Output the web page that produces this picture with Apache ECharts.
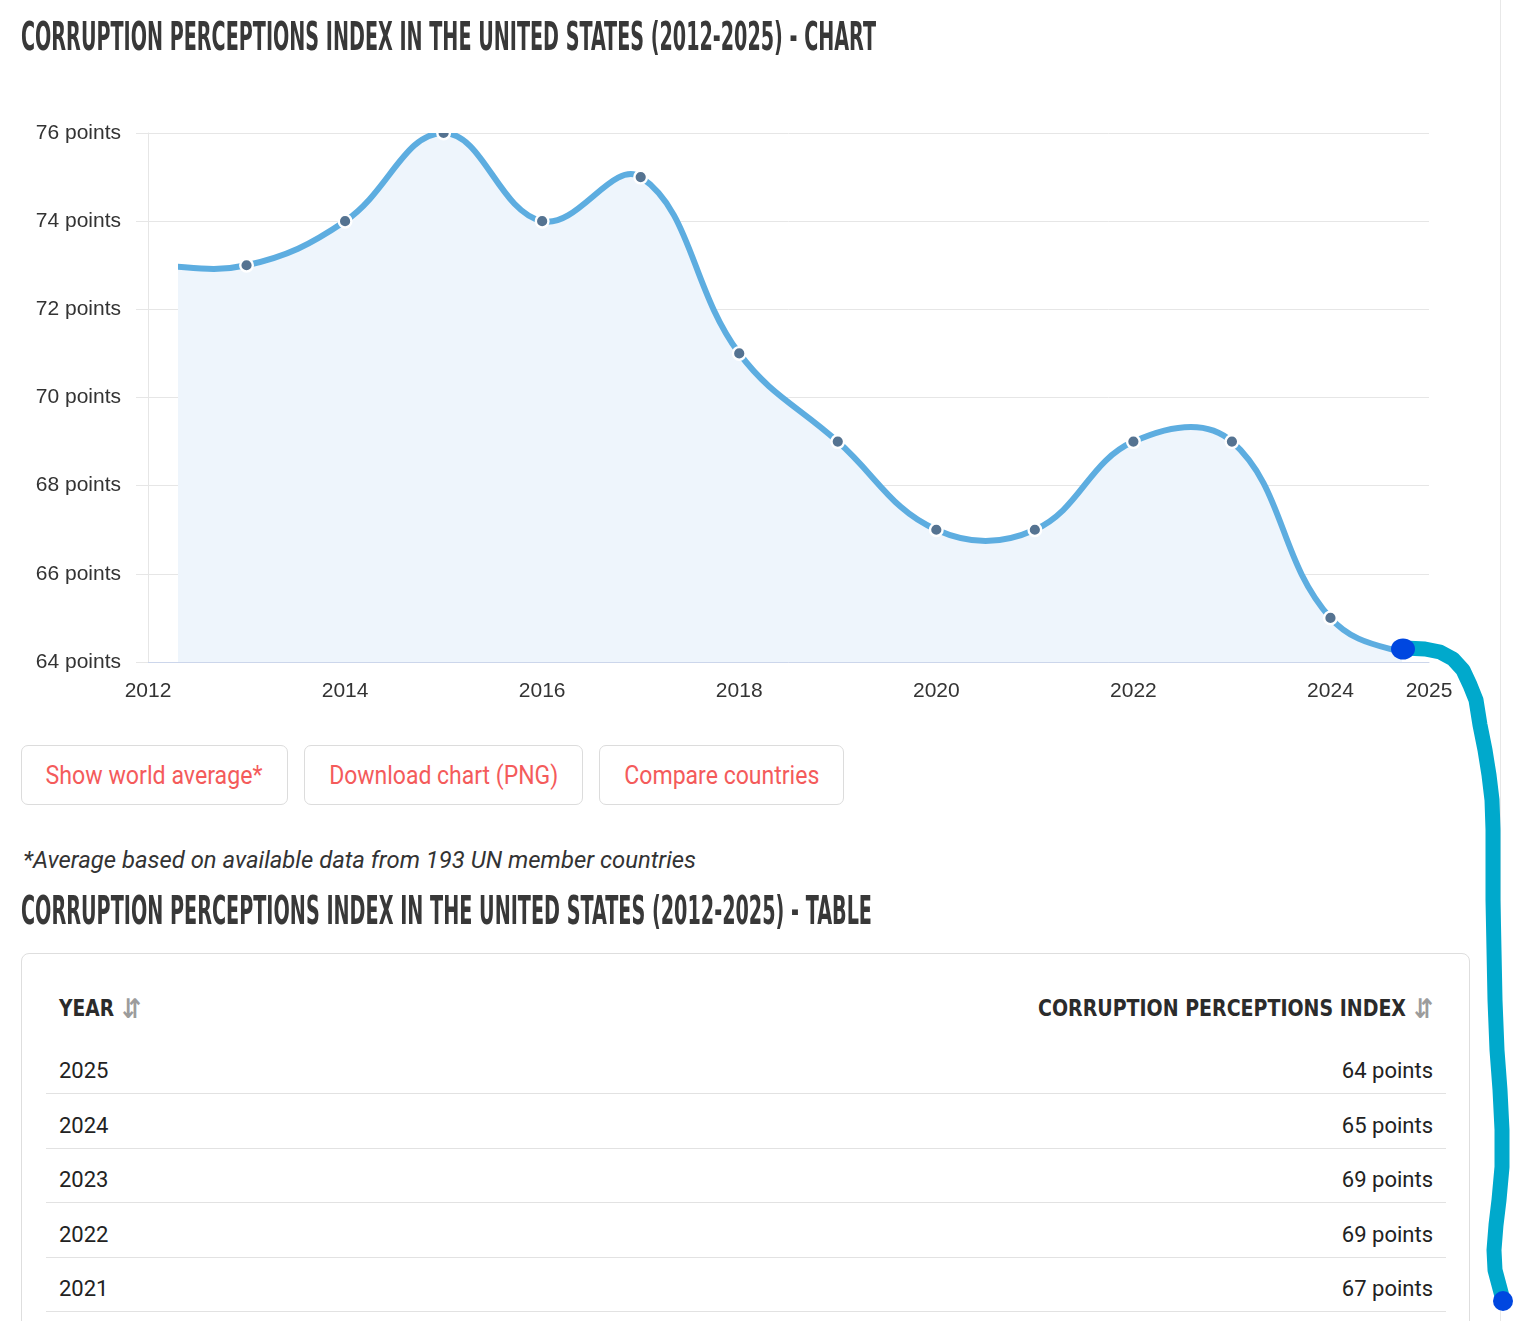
<!DOCTYPE html>
<html>
<head>
<meta charset="utf-8">
<script src="https://cdn.jsdelivr.net/npm/echarts@6/dist/echarts.min.js"></script>
<style>
html,body{margin:0;padding:0;background:#fff;width:1530px;height:1321px;overflow:hidden;}
body{position:relative;}
.abs{position:absolute;white-space:nowrap;}
.fit{display:inline-block;white-space:nowrap;transform-origin:left center;}
.h{font-family:'Liberation Sans Narrow','DejaVu Sans Condensed',sans-serif;font-weight:bold;color:#383838;font-size:39px;line-height:39px;}
.btn{position:absolute;top:745px;height:60px;box-sizing:border-box;border:1px solid #dcdcdc;border-radius:7px;display:flex;align-items:center;justify-content:center;background:#fff;}
.btn span{font-family:Roboto,'Noto Sans',sans-serif;font-size:25px;line-height:25px;color:#f45b5b;display:inline-block;white-space:nowrap;transform-origin:center center;}
.note{font-family:Roboto,'Noto Sans',sans-serif;font-style:italic;font-size:24px;line-height:24px;color:#333;}
.th{font-family:'Liberation Sans Narrow','DejaVu Sans Condensed',sans-serif;font-weight:bold;font-size:23px;line-height:23px;color:#2b2b2b;}
.arrow{font-family:'DejaVu Sans',sans-serif;font-weight:bold;font-size:27px;line-height:23px;color:#9c9c9c;display:inline-block;transform-origin:left center;}
.td{font-family:Roboto,'Noto Sans',sans-serif;font-size:22px;line-height:22px;color:#222;}
#chart{position:absolute;left:0;top:0;width:1530px;height:720px;}
</style>
</head>
<body>
<div id="chart"></div>
<div class="abs" style="left:1500px;top:0;width:1px;height:1321px;background:#e8e8e8;"></div>
<div class="abs h" style="left:21px;top:17px;"><span class="fit" data-w="855">CORRUPTION PERCEPTIONS INDEX IN THE UNITED STATES (2012-2025) - CHART</span></div>

<div class="btn" style="left:21px;width:267px;"><span data-w="217">Show world average*</span></div>
<div class="btn" style="left:304px;width:279px;"><span data-w="229">Download chart (PNG)</span></div>
<div class="btn" style="left:599px;width:245px;"><span data-w="195">Compare countries</span></div>

<div class="abs note" style="left:23px;top:848px;"><span class="fit" data-w="673">*Average based on available data from 193 UN member countries</span></div>

<div class="abs h" style="left:21px;top:891px;"><span class="fit" data-w="851">CORRUPTION PERCEPTIONS INDEX IN THE UNITED STATES (2012-2025) - TABLE</span></div>

<div class="abs" style="left:21px;top:953px;width:1449px;height:420px;box-sizing:border-box;border:1px solid #dedede;border-radius:8px;"></div>
<div class="abs th" style="left:59px;top:997px;"><span class="fit" data-w="55">YEAR</span></div>
<div class="abs" style="left:122px;top:997px;"><span class="arrow" data-w="19">⇵</span></div>
<div class="abs th" style="left:1038px;top:997px;"><span class="fit" data-w="368">CORRUPTION PERCEPTIONS INDEX</span></div>
<div class="abs" style="left:1414px;top:997px;"><span class="arrow" data-w="19">⇵</span></div>
<div id="rows"></div>

<svg class="abs" style="left:0;top:0;pointer-events:none;" width="1530" height="1321" viewBox="0 0 1530 1321">
  <polyline fill="none" stroke="#00a9cc" stroke-width="15" stroke-linecap="round" stroke-linejoin="round"
    points="1405,648 1425,649 1440,652 1453,659 1463,670 1470,685 1476,700 1480,725 1485,750 1489,775 1492,800 1493,830 1493,860 1493,900 1494,950 1495,1000 1497,1050 1500,1090 1502,1130 1502,1167 1499,1200 1496,1225 1494,1250 1495,1270 1499,1285 1503,1300"/>
  <ellipse cx="1403" cy="649" rx="12" ry="10.5" fill="#0047e0"/>
  <circle cx="1503" cy="1301" r="10" fill="#0047e0"/>
</svg>

<script>
// ---- data ----
const years = [2012, 2013, 2014, 2015, 2016, 2017, 2018, 2019, 2020, 2021, 2022, 2023, 2024, 2025];
const cpiValues = [73, 73, 74, 76, 74, 75, 71, 69, 67, 67, 69, 69, 65, 64];
const xTickLabels = ['2012', '2014', '2016', '2018', '2020', '2022', '2024', '2025'];
const yTickValues = [64, 66, 68, 70, 72, 74, 76];
const unitLabel = 'points';

// ---- table rows ----
const rowsEl = document.getElementById('rows');
const order = years.map((y, i) => i).reverse();
order.forEach((idx, r) => {
  const cy = 1071 + r * 54.6;
  const yr = document.createElement('div');
  yr.className = 'abs td';
  yr.style.left = '59px';
  yr.style.top = (cy - 11) + 'px';
  yr.textContent = String(years[idx]);
  rowsEl.appendChild(yr);
  const val = document.createElement('div');
  val.className = 'abs td';
  val.style.right = (1530 - 1433) + 'px';
  val.style.top = (cy - 11) + 'px';
  val.textContent = cpiValues[idx] + ' ' + unitLabel;
  rowsEl.appendChild(val);
  const sep = document.createElement('div');
  sep.className = 'abs';
  sep.style.left = '46px';
  sep.style.width = '1400px';
  sep.style.height = '1px';
  sep.style.background = '#e2e2e2';
  sep.style.top = Math.round(cy + 22) + 'px';
  rowsEl.appendChild(sep);
});

// ---- fit condensed texts ----
document.querySelectorAll('[data-w]').forEach(el => {
  const w = el.getBoundingClientRect().width;
  const target = parseFloat(el.getAttribute('data-w'));
  if (w > 0) el.style.transform = 'scaleX(' + (target / w) + ')';
});

// ---- chart ----
const plotLeft = 148, plotRight = 1429, plotTop = 133, plotBottom = 662, chartH = 720, chartW = 1530;
const clipLeft = 178, clipRight = 1402;
const xMin = 2012, xMax = 2025;
const yMin = yTickValues[0], yMax = yTickValues[yTickValues.length - 1];
const pxPerYear = (plotRight - plotLeft) / (xMax - xMin);
const clipMin = xMin + (clipLeft - plotLeft) / pxPerYear;
const clipMax = xMin + (clipRight - plotLeft) / pxPerYear;
const tension = 0.4;

function splineCurve(p0, p1, p2, t) {
  const d01 = Math.hypot(p1[0] - p0[0], p1[1] - p0[1]);
  const d12 = Math.hypot(p2[0] - p1[0], p2[1] - p1[1]);
  let s01 = d01 / (d01 + d12), s12 = d12 / (d01 + d12);
  if (!isFinite(s01)) s01 = 0;
  if (!isFinite(s12)) s12 = 0;
  const fa = t * s01, fb = t * s12;
  return {
    prev: [p1[0] - fa * (p2[0] - p0[0]), p1[1] - fa * (p2[1] - p0[1])],
    next: [p1[0] + fb * (p2[0] - p0[0]), p1[1] + fb * (p2[1] - p0[1])]
  };
}

function renderCurve(params, api) {
  if (params.dataIndex !== 0) return null;
  const pts = years.map((y, i) => api.coord([y, cpiValues[i]]));
  const tl = api.coord([xMin, yMax]);
  const br = api.coord([xMax, yMin]);
  const cap = (p) => [Math.max(tl[0], Math.min(br[0], p[0])), Math.max(tl[1], Math.min(br[1], p[1]))];
  const cps = pts.map((p, i) => {
    const prev = pts[i - 1] || p;
    const next = pts[i + 1] || p;
    const c = splineCurve(prev, p, next, tension);
    return { prev: cap(c.prev), next: cap(c.next) };
  });
  let d = 'M' + pts[0][0] + ' ' + pts[0][1];
  for (let i = 1; i < pts.length; i++) {
    const a = cps[i - 1].next, b = cps[i].prev, p = pts[i];
    d += ' C' + a[0] + ' ' + a[1] + ' ' + b[0] + ' ' + b[1] + ' ' + p[0] + ' ' + p[1];
  }
  const base = br[1];
  const area = d + ' L' + pts[pts.length - 1][0] + ' ' + base + ' L' + pts[0][0] + ' ' + base + ' Z';
  const children = [
    { type: 'path', shape: { pathData: area }, style: { fill: '#eef5fc', stroke: null }, silent: true },
    { type: 'path', shape: { pathData: d }, style: { fill: null, stroke: '#5dade0', lineWidth: 6, lineJoin: 'round', lineCap: 'butt' }, silent: true }
  ];
  pts.forEach(p => {
    children.push({ type: 'circle', shape: { cx: p[0], cy: p[1], r: 6.3 }, style: { fill: '#557391', stroke: '#ffffff', lineWidth: 2.4 }, silent: true });
  });
  return { type: 'group', children: children };
}

const chart = echarts.init(document.getElementById('chart'));
const axisFont = 'Liberation Sans, Arial, sans-serif';
chart.setOption({
  animation: false,
  grid: [
    { left: plotLeft, right: chartW - plotRight, top: plotTop, bottom: chartH - plotBottom },
    { left: clipLeft, right: chartW - clipRight, top: plotTop, bottom: chartH - plotBottom }
  ],
  xAxis: [
    {
      gridIndex: 0, type: 'value', min: xMin, max: xMax, interval: 1,
      axisLine: { show: true, lineStyle: { color: '#ccd6eb', width: 1 } },
      axisTick: { show: false },
      splitLine: { show: false },
      axisLabel: {
        formatter: v => xTickLabels.indexOf(String(v)) >= 0 ? String(v) : '',
        color: '#333', fontSize: 21, margin: 19, fontFamily: axisFont
      }
    },
    { gridIndex: 1, type: 'value', min: clipMin, max: clipMax, show: false }
  ],
  yAxis: [
    {
      gridIndex: 0, type: 'value', min: yMin, max: yMax, interval: 2,
      axisLine: { show: true, lineStyle: { color: '#e6e6e6', width: 1 } },
      axisTick: { show: true, length: 12, lineStyle: { color: '#e6e6e6' } },
      splitLine: { show: true, lineStyle: { color: '#e6e6e6', width: 1 } },
      axisLabel: { formatter: '{value} ' + unitLabel, color: '#333', fontSize: 21, margin: 27, fontFamily: axisFont }
    },
    { gridIndex: 1, type: 'value', min: yMin, max: yMax, show: false }
  ],
  series: [{
    type: 'custom',
    name: 'Corruption Perceptions Index',
    xAxisIndex: 1, yAxisIndex: 1,
    clip: true,
    data: years.map((y, i) => [y, cpiValues[i]]),
    renderItem: renderCurve,
    emphasis: { disabled: true }
  }]
});
</script>
</body>
</html>
